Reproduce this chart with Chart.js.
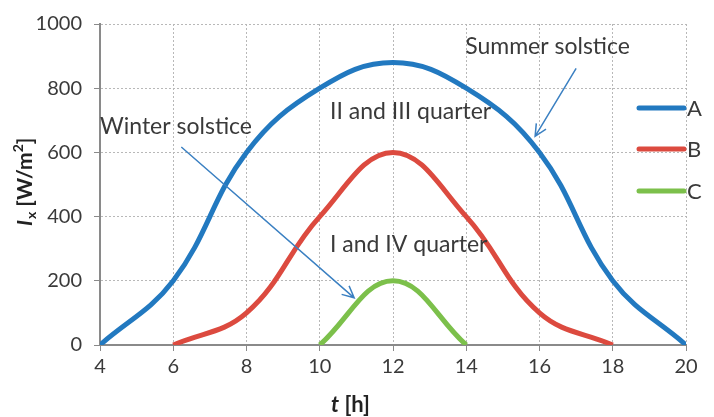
<!DOCTYPE html>
<html>
<head>
<meta charset="utf-8">
<script src="https://cdn.jsdelivr.net/npm/chart.js@4.4.1/dist/chart.umd.min.js"></script>
<style>
  html, body { margin: 0; padding: 0; background: #fff; }
  #wrap { width: 714px; height: 417px; position: relative; }
</style>
</head>
<body>
<div id="wrap"><canvas id="myChart"></canvas></div>
<script>
var hours = [4, 6, 8, 10, 12, 14, 16, 18, 20];
var seriesA = [0, 200, 600, 800, 880, 800, 600, 200, 0];
var seriesB = [null, 0, 100, 400, 600, 400, 100, 0, null];
var seriesC = [null, null, null, 0, 200, 0, null, null, null];
var seriesNames = ['A', 'B', 'C'];
var seriesColors = ['#2279c0', '#dc4a3f', '#7cc04b'];
var yTicks = [0, 200, 400, 600, 800, 1000];

var FONT = 'Lato, "Open Sans", sans-serif';
var textColor = '#3a3a3a';

function toPoints(vals) {
    var out = [];
    for (var i = 0; i < hours.length; i++) {
        if (vals[i] !== null) out.push({ x: hours[i], y: vals[i] });
    }
    return out;
}

// notes and arrows, in data units
var notes = [
    { text: 'Winter solstice', x: 4.0, y: 681 },
    { text: 'Summer solstice', x: 13.97, y: 929 },
    { text: 'II and III quarter', x: 10.28, y: 727 },
    { text: 'I and IV quarter', x: 10.28, y: 313 }
];
var arrows = [
    { x1: 6.22, y1: 617, x2: 10.94, y2: 147 },
    { x1: 17.0, y1: 862, x2: 15.88, y2: 650 }
];

var extras = {
    id: 'extras',
    afterDatasetsDraw: function(chart) {
        var ctx = chart.ctx;
        var sx = chart.scales.x, sy = chart.scales.y;
        ctx.save();
        // notes
        ctx.font = '23px ' + FONT;
        ctx.fillStyle = textColor;
        ctx.textBaseline = 'middle';
        ctx.textAlign = 'left';
        notes.forEach(function(n) {
            ctx.fillText(n.text, sx.getPixelForValue(n.x), sy.getPixelForValue(n.y));
        });
        // arrows
        ctx.strokeStyle = '#3b80c2';
        ctx.lineWidth = 1.5;
        arrows.forEach(function(a) {
            var x1 = sx.getPixelForValue(a.x1), y1 = sy.getPixelForValue(a.y1);
            var x2 = sx.getPixelForValue(a.x2), y2 = sy.getPixelForValue(a.y2);
            var ang = Math.atan2(y2 - y1, x2 - x1);
            ctx.beginPath();
            ctx.moveTo(x1, y1);
            ctx.lineTo(x2, y2);
            ctx.moveTo(x2 - 13 * Math.cos(ang - 0.45), y2 - 13 * Math.sin(ang - 0.45));
            ctx.lineTo(x2, y2);
            ctx.lineTo(x2 - 13 * Math.cos(ang + 0.45), y2 - 13 * Math.sin(ang + 0.45));
            ctx.stroke();
        });
        // legend
        var right = chart.chartArea.right;
        var legY = [108, 149, 191];
        ctx.font = '22px ' + FONT;
        for (var i = 0; i < seriesNames.length; i++) {
            ctx.strokeStyle = seriesColors[i];
            ctx.lineWidth = 5;
            ctx.lineCap = 'round';
            ctx.beginPath();
            ctx.moveTo(right - 47, legY[i]);
            ctx.lineTo(right - 2, legY[i]);
            ctx.stroke();
            ctx.fillStyle = textColor;
            ctx.fillText(seriesNames[i], right + 1, legY[i] + 1);
        }
        // x title: t [h]
        ctx.fillStyle = '#222';
        ctx.textBaseline = 'alphabetic';
        var xt = 331, yt = 412;
        ctx.font = 'bold italic 22px ' + FONT;
        ctx.fillText('t', xt, yt);
        xt += ctx.measureText('t').width;
        ctx.font = 'bold 22px ' + FONT;
        ctx.fillText(' [h]', xt, yt);
        // y title: I_x [W/m2]
        ctx.translate(32, 226);
        ctx.rotate(-Math.PI / 2);
        var p = 0;
        ctx.font = 'bold italic 21px ' + FONT;
        ctx.fillText('I', p, 0);
        p += ctx.measureText('I').width + 1;
        ctx.font = 'bold 14px ' + FONT;
        ctx.fillText('x', p, 4);
        p += ctx.measureText('x').width;
        ctx.font = 'bold 21px ' + FONT;
        ctx.fillText(' [W/m', p, 0);
        p += ctx.measureText(' [W/m').width;
        ctx.font = 'bold 14px ' + FONT;
        ctx.fillText('2', p, -9);
        p += ctx.measureText('2').width;
        ctx.font = 'bold 21px ' + FONT;
        ctx.fillText(']', p, 0);
        ctx.restore();
    }
};

var ctx = document.getElementById('myChart').getContext('2d');
ctx.canvas.parentNode.style.width = '714px';
ctx.canvas.parentNode.style.height = '417px';

var sets = [seriesA, seriesB, seriesC];
var datasets = [];
for (var i = 0; i < sets.length; i++) {
    datasets.push({
        label: seriesNames[i],
        data: toPoints(sets[i]),
        borderColor: seriesColors[i],
        backgroundColor: seriesColors[i],
        borderWidth: 5,
        pointRadius: 0,
        tension: 0.4,
        fill: false
    });
}

var myChart = new Chart(ctx, {
    type: 'line',
    data: { datasets: datasets },
    options: {
        responsive: true,
        maintainAspectRatio: false,
        animation: false,
        layout: { padding: { top: 19, right: 28, left: 0, bottom: 0 } },
        plugins: {
            legend: { display: false },
            tooltip: { enabled: false }
        },
        scales: {
            x: {
                type: 'linear',
                min: 4,
                max: 20,
                afterFit: function(scale) { scale.height = 72; },
                afterBuildTicks: function(scale) {
                    scale.ticks = hours.map(function(h) { return { value: h }; });
                },
                ticks: {
                    color: textColor,
                    font: { family: FONT, size: 20 },
                    padding: 4,
                    maxRotation: 0,
                    callback: function(v) { return String(v); }
                },
                grid: {
                    color: '#b8b8b8',
                    tickLength: 6,
                    tickColor: '#8a8a8a',
                    tickBorderDash: []
                },
                border: { color: '#8a8a8a', width: 2, dash: [2, 2] }
            },
            y: {
                min: 0,
                max: 1000,
                afterFit: function(scale) { scale.width = 100; },
                afterBuildTicks: function(scale) {
                    scale.ticks = yTicks.map(function(v) { return { value: v }; });
                },
                ticks: {
                    color: textColor,
                    font: { family: FONT, size: 20 },
                    padding: 12,
                    callback: function(v) { return String(v); }
                },
                grid: {
                    color: '#b8b8b8',
                    tickLength: 6,
                    tickColor: '#8a8a8a',
                    tickBorderDash: []
                },
                border: { color: '#8a8a8a', width: 2, dash: [2, 2] }
            }
        }
    },
    plugins: [extras]
});
</script>
</body>
</html>
